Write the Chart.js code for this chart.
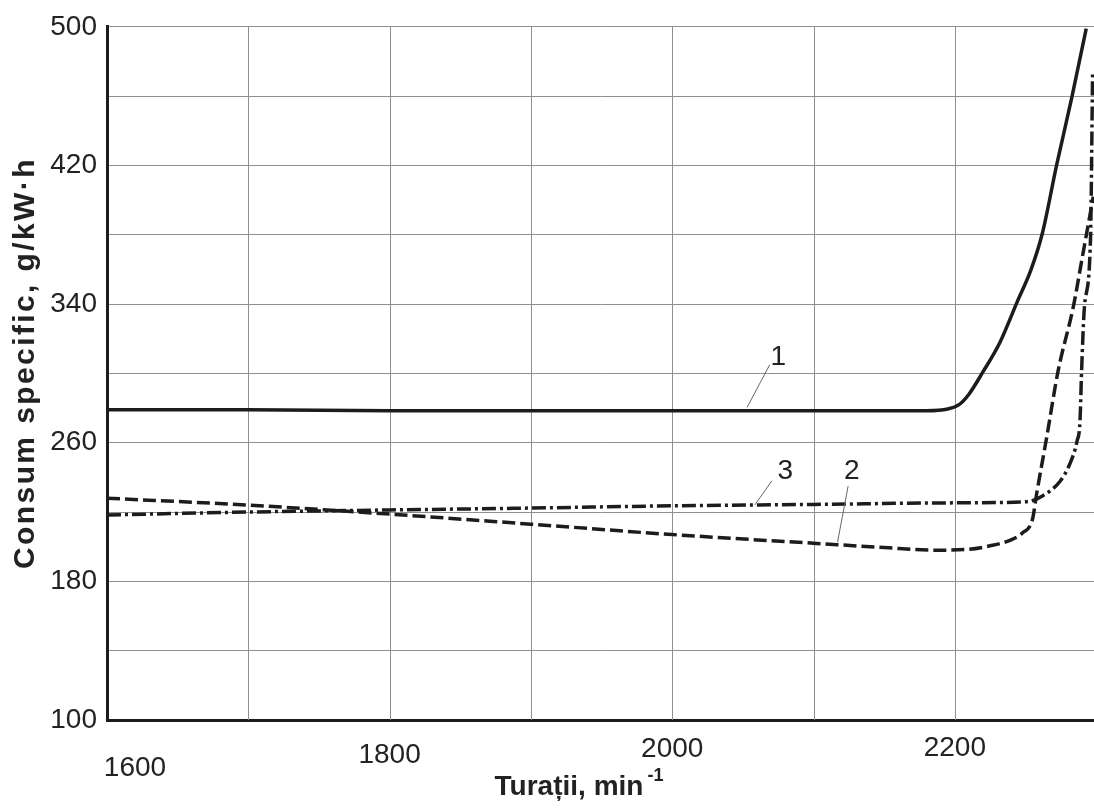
<!DOCTYPE html>
<html>
<head>
<meta charset="utf-8">
<script src="https://cdn.jsdelivr.net/npm/chart.js@4.4.0/dist/chart.umd.min.js"></script>
<style>
  html, body { margin: 0; padding: 0; background: #fff; }
  #wrap { width: 1094px; height: 812px; }
</style>
</head>
<body>
<div id="wrap"><canvas id="chart" width="1094" height="812"></canvas></div>
<script>
// curba 1 - linie continua
const rpm1 = [1600, 1700, 1800, 1900, 2000, 2100, 2180, 2195, 2203, 2210, 2220, 2232, 2244, 2254, 2262, 2272, 2283, 2293];
const cons1 = [279, 279, 278.5, 278.5, 278.5, 278.5, 278.5, 279.5, 282, 288, 301, 318, 341, 360, 381, 420, 460, 499];

// curba 2 - linie intrerupta
const rpm2 = [1600, 1700, 1800, 1900, 2000, 2100, 2150, 2185, 2210, 2225, 2239, 2248, 2255, 2258, 2265, 2273, 2284, 2290, 2298];
const cons2 = [228, 224, 218.8, 213, 207, 202, 199.5, 198, 198.5, 200.5, 203.7, 208, 216, 231, 263, 301, 339, 366, 402];

// curba 3 - linie-punct
const rpm3 = [1600, 1700, 1800, 1900, 2000, 2100, 2200, 2251, 2262, 2274.5, 2281.5, 2286.5, 2288.6, 2289.7, 2291.8, 2296, 2297.5];
const cons3 = [218.3, 220, 221.2, 222.3, 223.6, 224.4, 225.3, 226, 229.3, 237.8, 248, 261, 272.5, 301, 339, 377, 473];

const xTickLabels = [1600, 1800, 2000, 2200];
const xGridValues = [1700, 1800, 1900, 2000, 2100, 2200];
const yTickLabels = [100, 180, 260, 340, 420, 500];

// etichete curbe (coordonate in unitati de date)
const markNames = ['1', '3', '2'];
const markX = [2075, 2080, 2127];
const markY = [309.5, 243.5, 243.5];
const leaderFromX = [2069, 2070.5, 2124.5];
const leaderFromY = [305, 238, 235];
const leaderToX = [2053, 2058.5, 2117];
const leaderToY = [280.4, 224.1, 202.6];

const toPoints = (xs, ys) => xs.map((v, i) => ({ x: v, y: ys[i] }));

const FONT = '"Liberation Sans", Arial, sans-serif';
const GRID = '#8f8f8f';

// vertical grid lines, drawn under the curves
const xGrid = {
  id: 'xGrid',
  beforeDatasetsDraw(chart) {
    const { ctx, chartArea } = chart;
    const x = chart.scales.x;
    ctx.save();
    ctx.strokeStyle = GRID;
    ctx.lineWidth = 1;
    xGridValues.forEach(v => {
      const px = Math.round(x.getPixelForValue(v)) + 0.5;
      ctx.beginPath();
      ctx.moveTo(px, chartArea.top);
      ctx.lineTo(px, chartArea.bottom);
      ctx.stroke();
    });
    ctx.restore();
  }
};

const drawExtras = {
  id: 'drawExtras',
  afterDraw(chart) {
    const { ctx } = chart;
    const x = chart.scales.x, y = chart.scales.y;
    ctx.save();

    // leaders and curve numbers
    ctx.strokeStyle = '#666';
    ctx.lineWidth = 1;
    ctx.fillStyle = '#222';
    ctx.font = '28px ' + FONT;
    ctx.textAlign = 'center';
    ctx.textBaseline = 'middle';
    markNames.forEach((name, i) => {
      ctx.beginPath();
      ctx.moveTo(x.getPixelForValue(leaderFromX[i]), y.getPixelForValue(leaderFromY[i]));
      ctx.lineTo(x.getPixelForValue(leaderToX[i]), y.getPixelForValue(leaderToY[i]));
      ctx.stroke();
      ctx.fillText(name, x.getPixelForValue(markX[i]), y.getPixelForValue(markY[i]));
    });

    // x tick labels (staggered like the original)
    const shift = { 1600: [28, 19], 1800: [0, 6], 2000: [0, 0], 2200: [0, -1] };
    xTickLabels.forEach(v => {
      const s = shift[v] || [0, 0];
      ctx.fillText(String(v), x.getPixelForValue(v) + s[0], 749 + s[1]);
    });

    // y axis title
    ctx.save();
    ctx.translate(26, 363);
    ctx.rotate(-Math.PI / 2);
    ctx.font = 'bold 30px ' + FONT;
    ctx.letterSpacing = '2.4px';
    ctx.fillText('Consum specific, g/kW·h', 0, 0);
    ctx.restore();

    // x axis title with superscript
    ctx.textAlign = 'left';
    ctx.textBaseline = 'alphabetic';
    ctx.font = 'bold 28px ' + FONT;
    const main = 'Turații, min';
    const w1 = ctx.measureText(main).width;
    ctx.font = 'bold 18px ' + FONT;
    const w2 = ctx.measureText('-1').width;
    const startX = 579 - (w1 + 4 + w2) / 2;
    ctx.font = 'bold 28px ' + FONT;
    ctx.fillText(main, startX, 795);
    ctx.font = 'bold 18px ' + FONT;
    ctx.fillText('-1', startX + w1 + 4, 781);

    ctx.restore();
  }
};

new Chart(document.getElementById('chart'), {
  type: 'line',
  data: {
    datasets: [
      { label: '1', data: toPoints(rpm1, cons1), borderColor: '#1c1c1c', borderWidth: 3.5 },
      { label: '2', data: toPoints(rpm2, cons2), borderColor: '#1c1c1c', borderWidth: 3.5, borderDash: [13, 5] },
      { label: '3', data: toPoints(rpm3, cons3), borderColor: '#1c1c1c', borderWidth: 3.5, borderDash: [14, 4, 3, 4] }
    ]
  },
  options: {
    responsive: false,
    animation: false,
    layout: { padding: { top: 16, right: 0, left: 0, bottom: 0 } },
    elements: {
      point: { radius: 0 },
      line: { cubicInterpolationMode: 'monotone', fill: false }
    },
    plugins: { legend: { display: false }, tooltip: { enabled: false } },
    scales: {
      x: {
        type: 'linear',
        min: 1600,
        max: 2298.5,
        afterFit: s => { s.height = 92; },
        ticks: { display: false },
        grid: { display: false },
        border: { display: true, color: '#1c1c1c', width: 3 }
      },
      y: {
        min: 100,
        max: 500,
        afterFit: s => { s.width = 107; },
        ticks: {
          stepSize: 40,
          padding: 10,
          color: '#222',
          font: { family: FONT, size: 28 },
          callback: v => yTickLabels.includes(v) ? String(v) : ''
        },
        grid: { color: GRID, lineWidth: 1, drawTicks: false },
        border: { color: '#1c1c1c', width: 3 }
      }
    }
  },
  plugins: [xGrid, drawExtras]
});
</script>
</body>
</html>
